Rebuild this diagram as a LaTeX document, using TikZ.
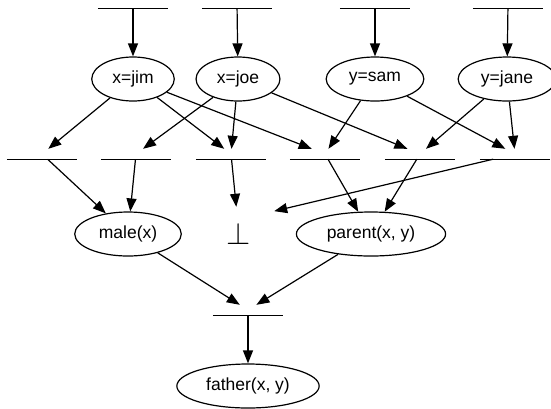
\documentclass[tikz,border=0pt]{standalone}
\usepackage{fontspec}
\setmainfont{Liberation Sans}
\usepackage{graphicx}
\usetikzlibrary{arrows.meta,shapes.geometric,positioning}

\begin{document}
\begin{tikzpicture}[
  x=1pt, y=-1pt,
  font=\fontsize{17.5}{21}\selectfont,
  lit/.style={ellipse,draw,line width=1.2pt,inner xsep=8.5pt,inner ysep=2pt,
              minimum height=44pt},
  rule/.style={inner sep=0pt,minimum width=70pt,minimum height=10pt},
  arr/.style={-{Triangle[length=13pt,width=10pt]},line width=1.2pt}
]
\useasboundingbox (0,0) rectangle (551,408);

% TOP: facts coming in
\node[rule] (in1) at (133,3) {};
\node[rule] (in2) at (237,3) {};
\node[rule] (in3) at (375,3) {};
\node[rule] (in4) at (508,3) {};

\node[lit] (xjim)  at (133,79) {x=jim};
\node[lit] (xjoe)  at (238,79) {x=joe};
\node[lit] (ysam)  at (375,79) {y=sam};
\node[lit] (yjane) at (507,79) {y=jane};

% MIDDLE: rule instances
\node[rule] (r1) at (42,154)  {};
\node[rule] (r2) at (136,154) {};
\node[rule] (r3) at (231,154) {};
\node[rule] (r4) at (325,154) {};
\node[rule] (r5) at (420,154) {};
\node[rule] (r6) at (515,154) {};

\node[lit] (male)   at (128,234) {male(x)};
\node[minimum width=70pt,minimum height=54pt] (bot) at (239,234)
  {\scalebox{1.8}{$\perp$}};
\node[lit] (parent) at (371,234) {parent(x, y)};

% BOTTOM: conclusion
\node[rule] (rf) at (248,310) {};
\node[lit] (father) at (248,386) {father(x, y)};

% the bars themselves
\foreach \r in {in1,in2,in3,in4,r1,r2,r3,r4,r5,r6,rf}
  \draw[line width=1.2pt] (\r.south west) -- (\r.south east);

\draw[arr] (in1) -- (xjim);
\draw[arr] (in2) -- (xjoe);
\draw[arr] (in3) -- (ysam);
\draw[arr] (in4) -- (yjane);

\draw[arr] (xjim) -- (r1);
\draw[arr] (xjim) -- (r3);
\draw[arr] (xjim) -- (r4);
\draw[arr] (xjoe) -- (r2);
\draw[arr] (xjoe) -- (r3);
\draw[arr] (xjoe) -- (r5);
\draw[arr] (ysam) -- (r4);
\draw[arr] (ysam) -- (r6);
\draw[arr] (yjane) -- (r5);
\draw[arr] (yjane) -- (r6);

\draw[arr] (r1) -- (male);
\draw[arr] (r2) -- (male);
\draw[arr] (r3) -- (bot);
\draw[arr] (r4) -- (parent);
\draw[arr] (r5) -- (parent);
\draw[arr] (r6) -- (bot.33);

\draw[arr] (male) -- (rf);
\draw[arr] (parent) -- (rf);
\draw[arr] (rf) -- (father);
\end{tikzpicture}
\end{document}
